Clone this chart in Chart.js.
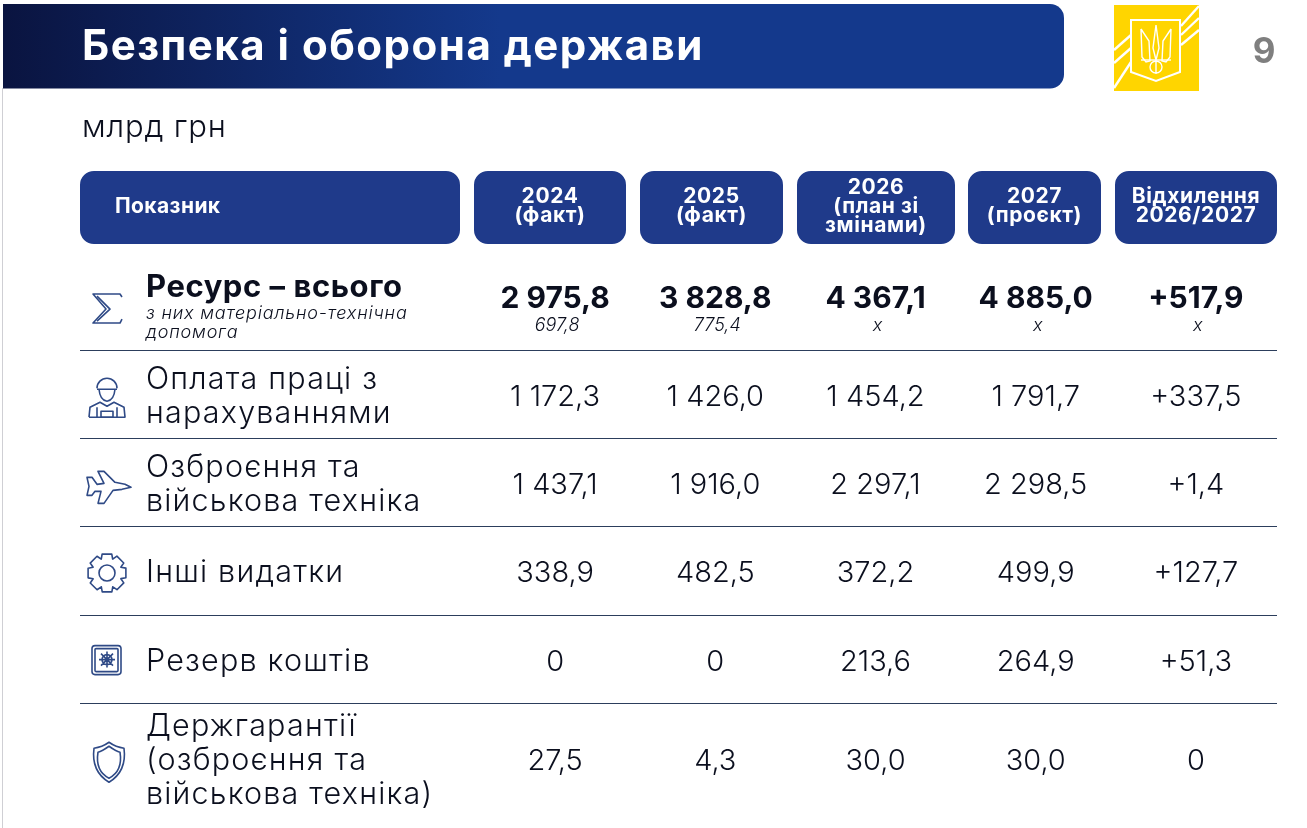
<!DOCTYPE html>
<html lang="uk">
<head>
<meta charset="utf-8">
<title>Безпека і оборона держави</title>
<script src="https://cdn.jsdelivr.net/npm/chart.js@4/dist/chart.umd.min.js"></script>
<style>
  html, body { margin: 0; background: #fff; }
  canvas { display: block; }
</style>
</head>
<body>
<canvas id="chart" width="1307" height="828"></canvas>
<script>
// data
var title = 'Безпека і оборона держави';
var unit = 'млрд грн';
var pageNo = '9';
var firstHeader = 'Показник';
var columns = ['2024 (факт)', '2025 (факт)', '2026 (план зі змінами)', '2027 (проєкт)', 'Відхилення 2026/2027'];
var rows = ['Ресурс – всього', 'Оплата праці з нарахуваннями', 'Озброєння та військова техніка', 'Інші видатки', 'Резерв коштів', 'Держгарантії (озброєння та військова техніка)'];
var resource   = [2975.8, 3828.8, 4367.1, 4885.0, 517.9];
var pay        = [1172.3, 1426.0, 1454.2, 1791.7, 337.5];
var weapons    = [1437.1, 1916.0, 2297.1, 2298.5, 1.4];
var other      = [338.9, 482.5, 372.2, 499.9, 127.7];
var reserve    = [0, 0, 213.6, 264.9, 51.3];
var guarantees = [27.5, 4.3, 30.0, 30.0, 0];
var aid        = [697.8, 775.4, null, null, null];
var aidLabel   = 'з них матеріально-технічна допомога';

// layout of the slide, not data
var FONT = 'Inter, "Open Sans", sans-serif';
var NAVY = '#1f3a8a';
var INK = '#0b0f1e';
var ICON = '#2f4a86';
var headerBoxes = [[474, 152], [640, 143], [797, 158], [968, 133], [1115, 162]];
var headerLines = [['2024', '(факт)'], ['2025', '(факт)'], ['2026', '(план зі', 'змінами)'], ['2027', '(проєкт)'], ['Відхилення', '2026/2027']];
var rowLines = [null, ['Оплата праці з', 'нарахуваннями'], ['Озброєння та', 'військова техніка'], ['Інші видатки'], ['Резерв коштів'], ['Держгарантії', '(озброєння та', 'військова техніка)']];
var rowNudge = [-9, 2, 2, 2, 2.5, 13.5];

function fmt(v, signed) {
  if (v === 0) return '0';
  var s = v.toFixed(1).replace('.', ',').replace(/\B(?=(\d{3})+(?!\d))/, ' ');
  return signed ? '+' + s : s;
}

function text(ctx, str, x, y, font, color, align, spacing) {
  ctx.font = font;
  ctx.fillStyle = color;
  ctx.textAlign = align || 'left';
  ctx.textBaseline = 'alphabetic';
  ctx.letterSpacing = (spacing || 0) + 'px';
  ctx.fillText(str, x, y);
  ctx.letterSpacing = '0px';
}

function points(ctx, pts, close) {
  ctx.beginPath();
  pts.forEach(function (p, i) { i ? ctx.lineTo(p[0], p[1]) : ctx.moveTo(p[0], p[1]); });
  if (close) ctx.closePath();
  ctx.stroke();
}

function drawEmblem(ctx) {
  ctx.fillStyle = '#ffd500';
  ctx.fillRect(1114, 5, 85, 86);
  ctx.strokeStyle = '#fff';
  ctx.lineWidth = 2.4;
  // stripes on the corners
  points(ctx, [[1181, 26], [1199, 6]]);
  points(ctx, [[1181, 35], [1199, 18]]);
  points(ctx, [[1181, 45], [1199, 30]]);
  points(ctx, [[1114, 50], [1131, 35]]);
  points(ctx, [[1114, 63], [1131, 48]]);
  points(ctx, [[1114, 88], [1131, 62]]);
  ctx.lineWidth = 2;
  ctx.fillStyle = '#ffd500';
  ctx.beginPath();
  ctx.moveTo(1131, 20); ctx.lineTo(1180, 20); ctx.lineTo(1180, 72); ctx.lineTo(1156, 81); ctx.lineTo(1131, 72);
  ctx.closePath();
  ctx.fill();
  ctx.stroke();
  // trident
  ctx.lineWidth = 1.4;
  points(ctx, [[1141, 29], [1149, 41], [1150, 61], [1146, 62], [1142, 57], [1141, 29]]);
  points(ctx, [[1171, 29], [1163, 41], [1162, 61], [1166, 62], [1170, 57], [1171, 29]]);
  points(ctx, [[1156, 25], [1153, 48], [1156, 60], [1159, 48], [1156, 25]]);
  points(ctx, [[1141, 60], [1171, 60]]);
  ctx.beginPath();
  ctx.arc(1156, 67, 6, 0, Math.PI * 2);
  ctx.moveTo(1156, 61); ctx.lineTo(1156, 74);
  ctx.stroke();
}

function drawIcons(ctx, ys) {
  ctx.strokeStyle = ICON;
  ctx.lineWidth = 1.6;
  ctx.lineJoin = 'round';
  var y;
  // sigma
  y = ys[0] + 11;
  points(ctx, [[122, y - 11], [120, y - 14], [93, y - 14], [106, y + 1], [93, y + 15], [120, y + 15], [122, y + 11]]);
  points(ctx, [[97, y - 12], [110, y + 1], [97, y + 13]]);
  // soldier
  y = ys[1] + 1;
  ctx.beginPath();
  ctx.arc(107, y - 9, 10, Math.PI, 0);
  ctx.moveTo(97, y - 8); ctx.lineTo(117, y - 8);
  ctx.moveTo(99, y - 8); ctx.quadraticCurveTo(100, y + 3, 107, y + 4); ctx.quadraticCurveTo(114, y + 3, 115, y - 8);
  ctx.stroke();
  points(ctx, [[89, y + 20], [90, y + 10], [100, y + 5], [107, y + 9], [114, y + 5], [124, y + 10], [125, y + 20], [89, y + 20]]);
  points(ctx, [[97, y + 20], [97, y + 10]]);
  points(ctx, [[117, y + 20], [117, y + 10]]);
  ctx.strokeRect(101, y + 14, 12, 6);
  // jet
  y = ys[2] + 2;
  points(ctx, [[87, y - 9], [92, y - 9], [97, y - 2], [104, y - 3], [98, y - 15], [104, y - 15], [115, y - 4], [125, y - 2], [131, y + 1],
    [122, y + 3], [113, y + 4], [104, y + 17], [98, y + 17], [101, y + 5], [95, y + 5], [92, y + 9], [87, y + 9], [89, y]], true);
  // gear
  y = ys[3] + 0.5;
  ctx.beginPath();
  for (var i = 0; i < 8; i++) {
    var a = i * Math.PI / 4 - Math.PI / 8;
    [[15, a], [19.5, a + 0.14], [19.5, a + 0.64], [15, a + 0.78]].forEach(function (p) {
      ctx.lineTo(107 + p[0] * Math.cos(p[1]), y + p[0] * Math.sin(p[1]));
    });
  }
  ctx.closePath();
  ctx.moveTo(115, y);
  ctx.arc(107, y, 8, 0, Math.PI * 2);
  ctx.stroke();
  // safe
  y = ys[4] - 0.5;
  ctx.beginPath();
  ctx.roundRect(92, y - 15, 29, 29, 3);
  ctx.roundRect(95, y - 12, 23, 23, 1);
  ctx.moveTo(112, y - 1);
  ctx.arc(107, y - 1, 5, 0, Math.PI * 2);
  ctx.moveTo(107, y - 9); ctx.lineTo(107, y + 7);
  ctx.moveTo(99, y - 1); ctx.lineTo(115, y - 1);
  ctx.moveTo(101, y - 7); ctx.lineTo(113, y + 5);
  ctx.moveTo(113, y - 7); ctx.lineTo(101, y + 5);
  ctx.stroke();
  // shield
  y = ys[5] + 1;
  [[0, 0], [4, 4]].forEach(function (o) {
    var d = o[0];
    ctx.beginPath();
    ctx.moveTo(109, y - 19 + d);
    ctx.quadraticCurveTo(116, y - 14 + d, 124 - d, y - 13 + d);
    ctx.quadraticCurveTo(127 - d, y + 10, 109, y + 21 - d);
    ctx.quadraticCurveTo(91 + d, y + 10, 94 + d, y - 13 + d);
    ctx.quadraticCurveTo(102, y - 14 + d, 109, y - 19 + d);
    ctx.closePath();
    ctx.stroke();
  });
}

var slidePlugin = {
  id: 'slide',
  afterDatasetsDraw: function (chart) {
    var ctx = chart.ctx;
    var yScale = chart.scales.y;
    ctx.save();

    // page furniture
    ctx.strokeStyle = '#cfcfd4';
    ctx.lineWidth = 1;
    points(ctx, [[2.5, 88], [2.5, 828]]);
    var grad = ctx.createLinearGradient(3, 0, 500, 0);
    grad.addColorStop(0, '#0a1440');
    grad.addColorStop(1, '#14398c');
    ctx.fillStyle = grad;
    ctx.beginPath();
    ctx.roundRect(3, 4, 1061, 84.5, [0, 14, 14, 0]);
    ctx.fill();
    text(ctx, title, 82, 60, '700 42px ' + FONT, '#fff', 'left', 1.5);
    text(ctx, pageNo, 1264, 63, '700 35px ' + FONT, '#7f7f7f', 'center');
    drawEmblem(ctx);
    text(ctx, unit, 82, 137, '300 31px ' + FONT, INK, 'left', 0.85);

    // header boxes
    ctx.fillStyle = NAVY;
    ctx.beginPath();
    ctx.roundRect(80, 171, 380, 73, 14);
    headerBoxes.forEach(function (b) { ctx.roundRect(b[0], 171, b[1], 73, 14); });
    ctx.fill();
    text(ctx, firstHeader, 115, 212.5, '700 21px ' + FONT, '#fff', 'left', 0.4);
    headerLines.forEach(function (lines, c) {
      var cx = headerBoxes[c][0] + headerBoxes[c][1] / 2;
      var base = 212.5 - (lines.length - 1) * 9.5;
      lines.forEach(function (line, l) {
        text(ctx, line, cx, base + l * 19, '700 21px ' + FONT, '#fff', 'center', 0.6);
      });
    });

    // row separators, halfway between the row centres
    ctx.strokeStyle = '#2c3e5c';
    ctx.lineWidth = 1.2;
    rows.slice(1).forEach(function (r, i) {
      var ly = Math.round((yScale.getPixelForValue(i) + yScale.getPixelForValue(i + 1)) / 2) + 0.5;
      points(ctx, [[80, ly], [1277, ly]]);
    });

    // row centres, nudged like the text on the slide
    var ys = rows.map(function (r, i) { return yScale.getPixelForValue(i) + rowNudge[i]; });

    // row labels
    text(ctx, rows[0], 146, ys[0], '700 31px ' + FONT, INK, 'left', 0.55);
    var aidWords = aidLabel.split(' допомога');
    text(ctx, aidWords[0], 146, ys[0] + 22, 'italic 300 18px ' + FONT, INK, 'left', 0.8);
    text(ctx, 'допомога', 146, ys[0] + 41, 'italic 300 18px ' + FONT, INK, 'left', 0.8);
    rowLines.forEach(function (lines, r) {
      if (!lines) return;
      var base = ys[r] + 10 - (lines.length - 1) * 17;
      lines.forEach(function (line, l) {
        text(ctx, line, 146, base + l * 34, '300 30.5px ' + FONT, INK, 'left', 1.2);
      });
    });

    // the values, at the points the chart placed
    chart.data.datasets.forEach(function (ds, r) {
      chart.getDatasetMeta(r).data.forEach(function (pt, c) {
        var v = ds.data[c].v;
        var signed = c === columns.length - 1;
        if (r === 0) {
          text(ctx, fmt(v, signed), pt.x, pt.y + rowNudge[r] + 11, '700 30px ' + FONT, INK, 'center');
          var sub = aid[c] === null ? 'х' : fmt(aid[c]);
          text(ctx, sub, pt.x + 2, pt.y + rowNudge[r] + 34, 'italic 300 18px ' + FONT, INK, 'center');
        } else {
          text(ctx, fmt(v, signed), pt.x, pt.y + rowNudge[r] + 10, '300 29px ' + FONT, INK, 'center');
        }
      });
    });

    drawIcons(ctx, ys);
    ctx.restore();
  }
};

function rowData(values, r) {
  return values.map(function (v, c) { return { x: columns[c], y: rows[r], v: v }; });
}

new Chart(document.getElementById('chart'), {
  type: 'line',
  data: {
    labels: columns,
    datasets: [resource, pay, weapons, other, reserve, guarantees].map(function (values, r) {
      return { label: rows[r], data: rowData(values, r), showLine: false, pointRadius: 0 };
    })
  },
  options: {
    responsive: false,
    animation: false,
    layout: { padding: { left: 475, right: 31, top: 262, bottom: 37.2 } },
    plugins: { legend: { display: false }, tooltip: { enabled: false } },
    scales: {
      x: { type: 'category', offset: true, display: false },
      y: { type: 'category', labels: rows, offset: true, display: false }
    }
  },
  plugins: [slidePlugin]
});
</script>
</body>
</html>
